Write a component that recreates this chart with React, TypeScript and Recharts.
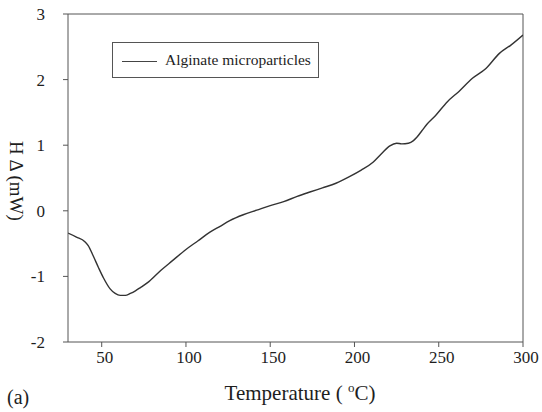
import { LineChart, Line, XAxis, YAxis, ReferenceLine } from "recharts";

// DSC trace
const temperatures = [
  30, 35, 40, 42, 45, 48, 51, 55, 58, 61, 64, 67, 70, 73, 78, 85, 92, 100, 107,
  114, 120, 126, 134, 142, 150, 158, 166, 174, 181, 189, 197, 204, 211, 216,
  221, 225, 228, 232, 235, 237, 240, 243, 248, 255, 262, 270, 278, 286, 293, 300,
];
const heatFlow = [
  -0.34, -0.4, -0.47, -0.53, -0.69, -0.86, -1.02, -1.19, -1.26, -1.29, -1.29,
  -1.26, -1.22, -1.17, -1.08, -0.91, -0.76, -0.59, -0.46, -0.33, -0.24, -0.15,
  -0.06, 0.01, 0.08, 0.14, 0.22, 0.29, 0.35, 0.42, 0.52, 0.62, 0.74, 0.87, 0.99,
  1.03, 1.02, 1.03, 1.07, 1.12, 1.22, 1.32, 1.45, 1.66, 1.82, 2.02, 2.17, 2.4,
  2.53, 2.68,
];
const xTicks = [50, 100, 150, 200, 250, 300];
const yTicks = [-2, -1, 0, 1, 2, 3];

const data = temperatures.map((t, i) => ({ t, h: heatFlow[i] }));

const FONT = "'Liberation Serif', 'Times New Roman', serif";
const AXIS = "#555";
const INK = "#1e1e1e";

// eslint-disable-next-line @typescript-eslint/no-explicit-any
const XTick = (props: any) => {
  const { x, y, payload } = props;
  return (
    <text
      x={x + 3}
      y={y + 13}
      textAnchor="middle"
      style={{ fontFamily: FONT, fontSize: 17, fill: INK }}
    >
      {payload.value}
    </text>
  );
};

// eslint-disable-next-line @typescript-eslint/no-explicit-any
const YTick = (props: any) => {
  const { x, y, payload } = props;
  return (
    <text
      x={x}
      y={y + 6}
      textAnchor="end"
      style={{ fontFamily: FONT, fontSize: 17, fill: INK }}
    >
      {payload.value}
    </text>
  );
};

export default function App() {
  return (
    <div
      style={{
        position: "absolute",
        left: 0,
        top: 0,
        width: 542,
        height: 412,
        background: "#fff",
        fontFamily: FONT,
      }}
    >
      <LineChart
        width={542}
        height={412}
        data={data}
        margin={{ top: 14, right: 19, left: 0, bottom: 40 }}
        style={{ fontFamily: FONT }}
      >
        <XAxis
          dataKey="t"
          type="number"
          domain={[30, 300]}
          ticks={xTicks}
          allowDataOverflow
          height={30}
          tickSize={5}
          tickMargin={3}
          stroke={AXIS}
          tick={<XTick />}
        />
        <YAxis
          type="number"
          domain={[-2, 3]}
          ticks={yTicks}
          width={68}
          tickSize={5}
          tickMargin={18}
          stroke={AXIS}
          tick={<YTick />}
        />
        <ReferenceLine y={3} stroke={AXIS} strokeWidth={1} />
        <ReferenceLine x={300} stroke={AXIS} strokeWidth={1} />
        <Line
          type="monotone"
          dataKey="h"
          stroke="#333"
          strokeWidth={1.4}
          dot={false}
          isAnimationActive={false}
        />
      </LineChart>

      {/* legend box */}
      <div
        style={{
          position: "absolute",
          left: 112,
          top: 42,
          width: 207,
          height: 36,
          border: `1px solid ${AXIS}`,
          boxSizing: "border-box",
        }}
      >
        <div
          style={{
            position: "absolute",
            left: 9,
            top: 18,
            width: 35,
            borderTop: "1.5px solid #444",
          }}
        />
        <div
          style={{
            position: "absolute",
            left: 52,
            top: 8,
            fontSize: 15.5,
            lineHeight: "17px",
            color: INK,
            whiteSpace: "nowrap",
          }}
        >
          Alginate microparticles
        </div>
      </div>

      {/* y axis title, reads top to bottom */}
      <div
        style={{
          position: "absolute",
          left: 16,
          top: 181,
          transform: "translate(-50%, -50%) rotate(90deg)",
          fontSize: 19,
          color: INK,
          whiteSpace: "nowrap",
        }}
      >
        H Δ (mW)
      </div>

      {/* x axis title */}
      <div
        style={{
          position: "absolute",
          left: 300,
          top: 393,
          transform: "translate(-50%, -50%)",
          fontSize: 21,
          lineHeight: "24px",
          color: INK,
          whiteSpace: "nowrap",
        }}
      >
        Temperature ( <sup style={{ fontSize: 13, lineHeight: 0 }}>o</sup>C)
      </div>

      <div
        style={{
          position: "absolute",
          left: 7,
          top: 385,
          fontSize: 20,
          lineHeight: "24px",
          color: INK,
        }}
      >
        (a)
      </div>
    </div>
  );
}
